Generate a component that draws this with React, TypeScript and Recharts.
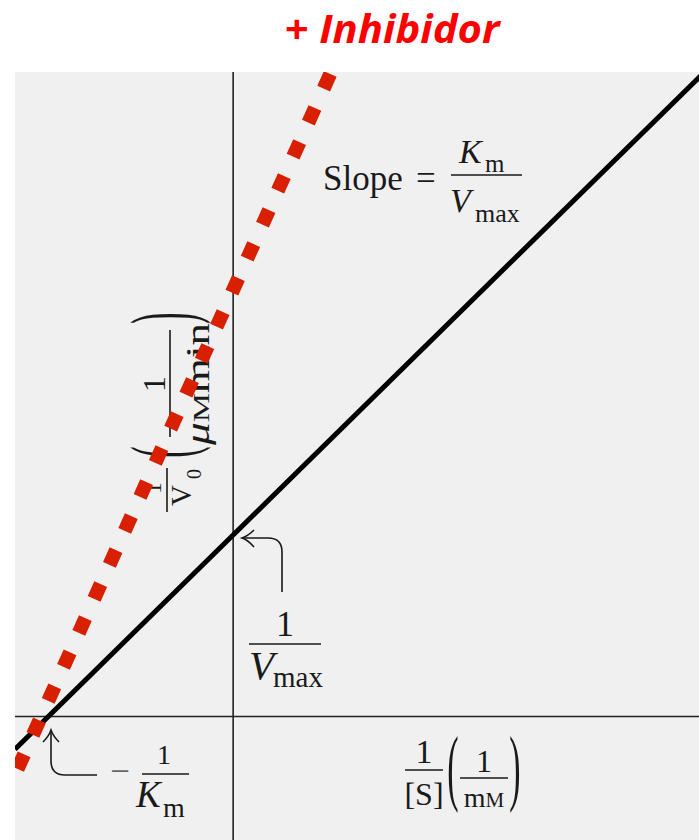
import React from "react";
import { LineChart, Line, XAxis, YAxis, ReferenceLine, CartesianGrid } from "recharts";

// Lineweaver–Burk plot: 1/V0 against 1/[S], with and without inhibitor
const uninhibited = [
  { x: -1.18, y: -0.18 },
  { x: 0, y: 1 },
  { x: 2.55, y: 3.55 },
];
const inhibited = [
  { x: -1.18, y: -0.32 },
  { x: 0, y: 2.35 },
  { x: 0.53, y: 3.55 },
];
const xDomain = [-1.18, 2.52];
const yDomain = [-0.68, 3.55];

const serif = "'Liberation Serif', 'Times New Roman', serif";
const ink = "#1a1a1a";

function Paren({ ch, x, y, size, stretch }: { ch: string; x: number; y: number; size: number; stretch: number }) {
  return (
    <text
      transform={`translate(${x},${y}) scale(1,${stretch})`}
      y={size * 0.235}
      fontSize={size}
      fontFamily={serif}
      textAnchor="middle"
      fill={ink}
    >
      {ch}
    </text>
  );
}

function Bar({ x1, x2, y }: { x1: number; x2: number; y: number }) {
  return <line x1={x1} x2={x2} y1={y} y2={y} stroke={ink} strokeWidth={1.6} />;
}

function Annotations() {
  return (
    <g fontFamily={serif} fill={ink}>
      {/* Slope = Km / Vmax */}
      <text x={323} y={190} fontSize={35}>Slope</text>
      <text x={416} y={190} fontSize={35}>=</text>
      <Bar x1={451} x2={522} y={175} />
      <text x={459} y={163} fontSize={34} fontStyle="italic">K</text>
      <text x={485} y={172} fontSize={25}>m</text>
      <text x={450} y={212} fontSize={34} fontStyle="italic">V</text>
      <text x={475} y={222} fontSize={26}>max</text>

      {/* y-intercept: 1 / Vmax */}
      <path d="M282 592 L282 552 Q282 538 268 538 L242 538" fill="none" stroke={ink} strokeWidth={1.6} />
      <path d="M254 530 Q248 536 242 538 Q248 540 254 547" fill="none" stroke={ink} strokeWidth={1.6} />
      <text x={285} y={636} fontSize={36} textAnchor="middle">1</text>
      <Bar x1={249} x2={321} y={644} />
      <text x={249} y={679} fontSize={41} fontStyle="italic">V</text>
      <text x={273} y={687} fontSize={29}>max</text>

      {/* x-intercept: -1 / Km */}
      <path d="M97 775 L65 775 Q51 775 51 761 L51 731" fill="none" stroke={ink} strokeWidth={1.6} />
      <path d="M43 742 Q49 736 51 730 Q53 736 59 742" fill="none" stroke={ink} strokeWidth={1.6} />
      <text x={120} y={783} fontSize={35} textAnchor="middle" fill="#666">−</text>
      <text x={164} y={764} fontSize={28} textAnchor="middle">1</text>
      <Bar x1={142} x2={189} y={774} />
      <text x={136} y={807} fontSize={37} fontStyle="italic">K</text>
      <text x={163} y={817} fontSize={28}>m</text>

      {/* x-axis title: 1/[S] (1/mM) */}
      <text x={424} y={763} fontSize={34} textAnchor="middle">1</text>
      <Bar x1={405} x2={443} y={770} />
      <text x={424} y={805} fontSize={32} textAnchor="middle">[S]</text>
      <Paren ch="(" x={453} y={775} size={34} stretch={2.5} />
      <text x={484} y={772} fontSize={32} textAnchor="middle">1</text>
      <Bar x1={460} x2={508} y={778} />
      <text x={484} y={807} fontSize={28} textAnchor="middle">
        m<tspan fontSize={21}>M</tspan>
      </text>
      <Paren ch=")" x={515} y={775} size={34} stretch={2.5} />

      {/* y-axis title, rotated: 1/V0 (1/µM min) */}
      <g transform="translate(167,490) rotate(-90)">
        <text x={2} y={-6} fontSize={23} textAnchor="middle">1</text>
        <Bar x1={-22} x2={22} y={0} />
        <text x={-16} y={24} fontSize={29}>V</text>
        <text x={11} y={34} fontSize={20}>0</text>
        <Paren ch="(" x={38} y={4} size={34} stretch={2.6} />
        <text x={106} y={-2} fontSize={32} textAnchor="middle">1</text>
        <Bar x1={53} x2={160} y={3} />
        <text x={45} y={42} fontSize={33} textLength={122} lengthAdjust="spacingAndGlyphs">
          <tspan fontStyle="italic">μ</tspan>
          <tspan fontSize={24}>M</tspan>
          <tspan>min</tspan>
        </text>
        <Paren ch=")" x={172} y={4} size={34} stretch={2.6} />
      </g>
    </g>
  );
}

export default function App() {
  return (
    <div style={{ position: "absolute", left: 0, top: 0, background: "#fff" }}>
      <LineChart width={699} height={840} margin={{ top: 72, right: 0, bottom: 0, left: 15 }}>
        <CartesianGrid horizontal={false} vertical={false} fill="#f0f0f0" />
        <XAxis type="number" dataKey="x" domain={xDomain} allowDataOverflow hide />
        <YAxis type="number" dataKey="y" domain={yDomain} allowDataOverflow hide />
        <ReferenceLine x={0} stroke="#222" strokeWidth={1.6} />
        <ReferenceLine y={0} stroke="#222" strokeWidth={1.6} />
        <text
          x={392}
          y={43}
          fontSize={40}
          fontFamily="'Open Sans', sans-serif"
          fontWeight={700}
          fontStyle="italic"
          fill="#ff0000"
          textAnchor="middle"
          textLength={215}
          lengthAdjust="spacingAndGlyphs"
        >
          + Inhibidor
        </text>
        <Annotations />
        <Line
          data={uninhibited}
          dataKey="y"
          stroke="#000"
          strokeWidth={5}
          dot={false}
          activeDot={false}
          isAnimationActive={false}
        />
        <Line
          data={inhibited}
          dataKey="y"
          stroke="#d82000"
          strokeWidth={14}
          strokeDasharray="16 21.3"
          strokeDashoffset={31}
          dot={false}
          activeDot={false}
          isAnimationActive={false}
        />
      </LineChart>
    </div>
  );
}
